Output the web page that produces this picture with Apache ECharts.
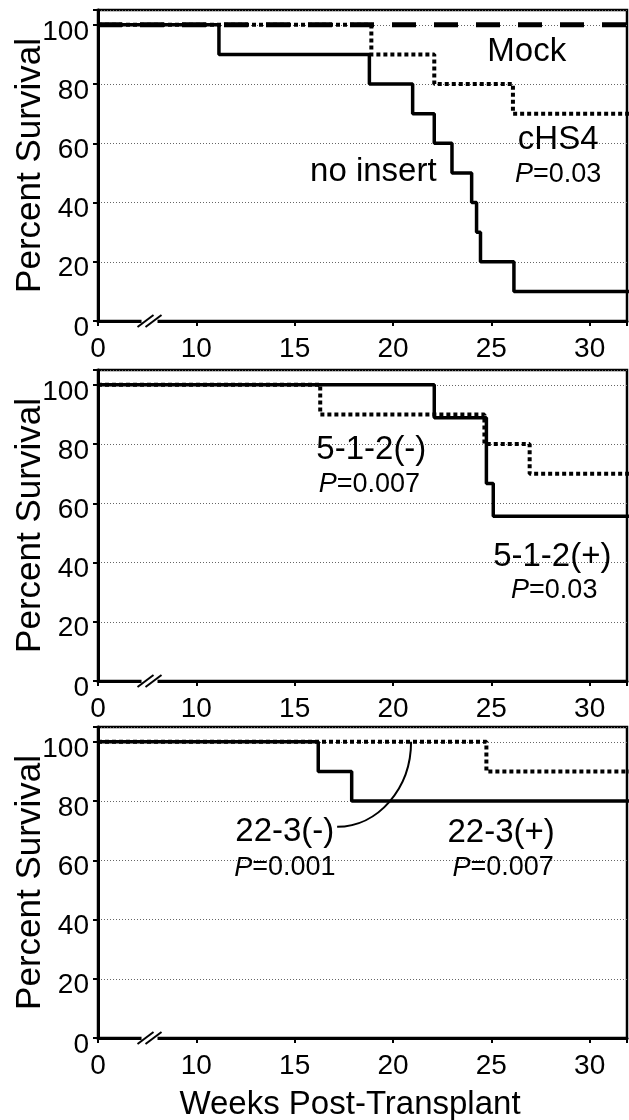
<!DOCTYPE html>
<html>
<head>
<meta charset="utf-8">
<script src="https://cdn.jsdelivr.net/npm/echarts@6/dist/echarts.min.js"></script>
<style>
  html, body { margin: 0; padding: 0; background: #fff; }
  #chart { width: 629px; height: 1120px; }
</style>
</head>
<body>
<div id="chart"></div>
<script>
// weeks post-transplant at each step, and percent survival from that week on
const mockWeeks = [0, 32]
const mockPct = [100, 100]
const cHS4Weeks = [0, 18.9, 22.1, 26.1, 32]
const cHS4Pct = [100, 90, 80, 70, 70]
const noInsertWeeks = [0, 11.15, 18.8, 21.0, 22.1, 23.0, 24.0, 24.25, 24.45, 26.15, 32]
const noInsertPct = [100, 90, 80, 70, 60, 50, 40, 30, 20, 10, 10]

const neg512Weeks = [0, 16.3, 24.65, 26.95, 32]
const neg512Pct = [100, 90, 80, 70, 70]
const pos512Weeks = [0, 22.1, 24.75, 25.1, 32]
const pos512Pct = [100, 88.9, 66.7, 55.6, 55.6]

const neg223Weeks = [0, 24.75, 32]
const neg223Pct = [100, 90, 90]
const pos223Weeks = [0, 16.2, 17.9, 32]
const pos223Pct = [100, 90, 80, 80]

const xTicks = [0, 10, 15, 20, 25, 30]
const yTicks = [0, 20, 40, 60, 80, 100]

const FONT = '"Liberation Sans", Arial, sans-serif'

// axis is broken between 0 and 10: weeks 0-10 squeezed into one 5-week slot
const toAxis = w => (w < 10 ? 5 + w / 2 : w)
const pairs = (weeks, pct) => weeks.map((w, i) => [toAxis(w), pct[i]])

const chart = echarts.init(document.getElementById('chart'))

const gridTops = [10, 370, 727]
const grids = gridTops.map(top => ({
  left: 98,
  right: 2,
  top,
  height: 311,
  containLabel: false,
  outerBoundsMode: 'none',
  show: true,
  borderColor: '#000',
  borderWidth: 2.5,
  backgroundColor: 'transparent'
}))

const xAxes = gridTops.map((_, i) => ({
  gridIndex: i,
  type: 'value',
  min: 5,
  max: 31.9,
  interval: 5,
  axisLine: { onZero: false, lineStyle: { color: '#000', width: 3 } },
  axisTick: { show: true, length: 5, lineStyle: { color: '#000', width: 2 } },
  axisLabel: {
    color: '#000',
    fontSize: 28,
    fontFamily: FONT,
    margin: 14,
    formatter: v => {
      const w = v === 5 ? 0 : v
      return xTicks.includes(w) ? String(w) : ''
    }
  },
  splitLine: { show: false },
  name: i === 2 ? 'Weeks Post-Transplant' : '',
  nameLocation: 'middle',
  nameGap: 50,
  nameMoveOverlap: false,
  nameTextStyle: { color: '#000', fontSize: 33, fontFamily: FONT, padding: [0, 25, 0, 0] }
}))

const yAxes = gridTops.map((_, i) => ({
  gridIndex: i,
  type: 'value',
  min: 0,
  max: 105,
  interval: 20,
  axisLine: { show: true, lineStyle: { color: '#000', width: 3 } },
  axisTick: { show: true, length: 5, lineStyle: { color: '#000', width: 2 } },
  axisLabel: {
    color: '#000',
    fontSize: 28,
    fontFamily: FONT,
    margin: 9,
    verticalAlign: 'top',
    lineHeight: 14,
    formatter: v => (yTicks.includes(v) ? String(v) : '')
  },
  splitLine: { show: true, lineStyle: { color: '#666', width: 1, type: [1, 2] } },
  name: 'Percent Survival',
  nameLocation: 'middle',
  nameGap: 50,
  nameMoveOverlap: false,
  nameTextStyle: { color: '#000', fontSize: 35, fontFamily: FONT }
}))

const solid = { color: '#000', width: 3.5 }
const dotted = { color: '#000', width: 4, type: [4, 3] }
const dashed = { color: '#000', width: 5, type: [24, 18] }

const stepLine = (g, name, weeks, pct, lineStyle, z) => ({
  name,
  type: 'line',
  xAxisIndex: g,
  yAxisIndex: g,
  step: 'end',
  symbol: 'none',
  data: pairs(weeks, pct),
  lineStyle,
  z
})

chart.setOption({
  animation: false,
  backgroundColor: '#fff',
  grid: grids,
  xAxis: xAxes,
  yAxis: yAxes,
  series: [
    stepLine(0, 'no insert', noInsertWeeks, noInsertPct, solid, 2),
    stepLine(0, 'cHS4', cHS4Weeks, cHS4Pct, dotted, 3),
    stepLine(0, 'Mock', mockWeeks, mockPct, dashed, 4),
    stepLine(1, '5-1-2(-)', neg512Weeks, neg512Pct, dotted, 2),
    stepLine(1, '5-1-2(+)', pos512Weeks, pos512Pct, solid, 3),
    stepLine(2, '22-3(-)', neg223Weeks, neg223Pct, dotted, 2),
    stepLine(2, '22-3(+)', pos223Weeks, pos223Pct, solid, 3)
  ]
})

// annotations, placed in axis units
const notes = [
  { g: 0, x: 26.8, y: 90.9, text: 'Mock', size: 33 },
  { g: 0, x: 28.4, y: 61.1, text: 'cHS4', size: 33 },
  { g: 0, x: 28.4, y: 49.3, text: '{i|P}=0.03', size: 27 },
  { g: 0, x: 19.0, y: 50.3, text: 'no insert', size: 33 },
  { g: 1, x: 18.9, y: 78.0, text: '5-1-2(-)', size: 33 },
  { g: 1, x: 18.8, y: 66.2, text: '{i|P}=0.007', size: 27 },
  { g: 1, x: 28.1, y: 41.9, text: '5-1-2(+)', size: 33 },
  { g: 1, x: 28.2, y: 30.7, text: '{i|P}=0.03', size: 27 },
  { g: 2, x: 14.5, y: 69.6, text: '22-3(-)', size: 33 },
  { g: 2, x: 14.5, y: 57.4, text: '{i|P}=0.001', size: 27 },
  { g: 2, x: 25.5, y: 69.3, text: '22-3(+)', size: 33 },
  { g: 2, x: 25.6, y: 57.4, text: '{i|P}=0.007', size: 27 }
]

const px = (g, x, y) => chart.convertToPixel({ gridIndex: g }, [x, y])

const graphics = []

notes.forEach(n => {
  const [x, y] = px(n.g, n.x, n.y)
  graphics.push({
    type: 'text',
    x,
    y,
    z: 10,
    style: {
      text: n.text,
      fill: '#000',
      fontSize: n.size,
      fontFamily: FONT,
      align: 'center',
      verticalAlign: 'middle',
      rich: { i: { fontStyle: 'italic', fontSize: n.size, fontFamily: FONT, fill: '#000' } }
    }
  })
})

// axis break marks "//"
gridTops.forEach((_, g) => {
  const [cx, cy] = px(g, 7.62, 0)
  graphics.push({
    type: 'rect',
    z: 10,
    shape: { x: cx - 8, y: cy - 3, width: 16, height: 6 },
    style: { fill: '#fff' }
  })
  ;[-4, 4].forEach(dx => {
    graphics.push({
      type: 'line',
      z: 11,
      shape: { x1: cx + dx - 8, y1: cy + 6, x2: cx + dx + 8, y2: cy - 6 },
      style: { stroke: '#000', lineWidth: 2 }
    })
  })
})

// leader from the 22-3(-) label up to its curve
const [lx1, ly1] = px(2, 17.16, 71.3)
const [lx2, ly2] = px(2, 20.92, 100)
graphics.push({
  type: 'bezierCurve',
  z: 10,
  shape: {
    x1: lx1, y1: ly1,
    x2: lx2, y2: ly2,
    cpx1: lx1 + 0.55 * (lx2 - lx1), cpy1: ly1,
    cpx2: lx2, cpy2: ly2 + 0.55 * (ly1 - ly2)
  },
  style: { stroke: '#000', lineWidth: 2, fill: null }
})

chart.setOption({ graphic: graphics })
</script>
</body>
</html>
